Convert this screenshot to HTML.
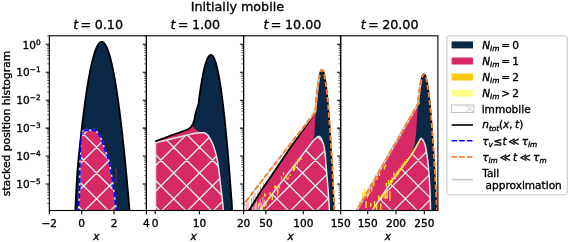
<!DOCTYPE html>
<html><head><meta charset="utf-8"><title>Initially mobile</title>
<style>html,body{margin:0;padding:0;background:#fff}svg{display:block;filter:blur(0.3px)}text{stroke:#000;stroke-width:.35px}</style></head>
<body>
<svg width="575" height="242" viewBox="0 0 575 242" font-family="DejaVu Sans, Liberation Sans, sans-serif" font-size="10.55" fill="#000">
<rect width="575" height="242" fill="#fff"/>
<defs>
<clipPath id="c0"><rect x="49.3" y="35.8" width="97.1" height="174.7"/></clipPath>
<clipPath id="c1"><rect x="146.4" y="35.8" width="97.2" height="174.7"/></clipPath>
<clipPath id="c2"><rect x="243.6" y="35.8" width="97.1" height="174.7"/></clipPath>
<clipPath id="c3"><rect x="340.7" y="35.8" width="97.2" height="174.7"/></clipPath>
<path id="hl" d="M-299.44 260 L-19.44 -20 M-405.44 -20 L-125.44 260 M-273.69 260 L6.31 -20 M-379.69 -20 L-99.69 260 M-247.95 260 L32.05 -20 M-353.95 -20 L-73.95 260 M-222.21 260 L57.79 -20 M-328.21 -20 L-48.21 260 M-196.46 260 L83.54 -20 M-302.46 -20 L-22.46 260 M-170.72 260 L109.28 -20 M-276.72 -20 L3.28 260 M-144.97 260 L135.03 -20 M-250.97 -20 L29.03 260 M-119.22 260 L160.78 -20 M-225.22 -20 L54.78 260 M-93.48 260 L186.52 -20 M-199.48 -20 L80.52 260 M-67.74 260 L212.26 -20 M-173.74 -20 L106.26 260 M-41.99 260 L238.01 -20 M-147.99 -20 L132.01 260 M-16.25 260 L263.75 -20 M-122.25 -20 L157.75 260 M9.5 260 L289.5 -20 M-96.5 -20 L183.5 260 M35.25 260 L315.25 -20 M-70.75 -20 L209.25 260 M60.99 260 L340.99 -20 M-45.01 -20 L234.99 260 M86.74 260 L366.74 -20 M-19.27 -20 L260.74 260 M112.48 260 L392.48 -20 M6.48 -20 L286.48 260 M138.23 260 L418.23 -20 M32.22 -20 L312.23 260 M163.97 260 L443.97 -20 M57.97 -20 L337.97 260 M189.72 260 L469.72 -20 M83.72 -20 L363.72 260 M215.46 260 L495.46 -20 M109.46 -20 L389.46 260 M241.21 260 L521.21 -20 M135.21 -20 L415.21 260 M266.95 260 L546.95 -20 M160.95 -20 L440.95 260 M292.69 260 L572.69 -20 M186.69 -20 L466.69 260 M318.44 260 L598.44 -20 M212.44 -20 L492.44 260 M344.18 260 L624.18 -20 M238.19 -20 L518.18 260 M369.93 260 L649.93 -20 M263.93 -20 L543.93 260 M395.67 260 L675.67 -20 M289.68 -20 L569.67 260 M421.42 260 L701.42 -20 M315.42 -20 L595.42 260 M447.16 260 L727.16 -20 M341.17 -20 L621.16 260 M472.91 260 L752.91 -20 M366.91 -20 L646.91 260 M498.65 260 L778.65 -20 M392.66 -20 L672.65 260"/>
</defs>
<g clip-path="url(#c0)">
<path d="M75.16 213.5 L75.7 202.24 L76.25 191.37 L76.82 180.88 L77.4 170.77 L78.31 161.04 L79.25 151.69 L80.18 142.72 L81.12 134.14 L82.05 125.93 L82.99 118.11 L83.93 110.67 L84.86 103.61 L85.8 96.93 L86.73 90.64 L87.67 84.73 L88.6 79.19 L89.54 74.04 L90.47 69.27 L91.41 64.88 L92.35 60.88 L93.28 57.25 L94.22 54.01 L95.15 51.15 L96.09 48.67 L97.02 46.57 L97.96 44.85 L98.89 43.52 L99.83 42.56 L100.76 41.99 L101.7 41.8 L102.64 41.99 L103.57 42.56 L104.51 43.52 L105.44 44.85 L106.38 46.57 L107.31 48.67 L108.25 51.15 L109.18 54.01 L110.12 57.25 L111.05 60.88 L111.99 64.88 L112.93 69.27 L113.86 74.04 L114.8 79.19 L115.73 84.73 L116.67 90.64 L117.6 96.93 L118.54 103.61 L119.47 110.67 L120.41 118.11 L121.35 125.93 L122.28 134.14 L123.22 142.72 L124.15 151.69 L125.09 161.04 L126.02 170.77 L126.96 180.88 L127.89 191.37 L128.83 202.24 L129.76 213.5 Z" fill="#0b2846"/>
<clipPath id="h0"><path d="M78.3 214 L78.5 210.5 L79.6 190 L79.9 160 L80.8 140 L81.6 132.5 L82.6 130.7 L84.5 130.3 L85.1 130.28 L85.94 130.26 L86.92 130.22 L87.99 130.2 L89.04 130.19 L90 130.2 L90.91 130.21 L91.83 130.2 L92.75 130.21 L93.63 130.26 L94.46 130.38 L95.2 130.6 L95.83 130.91 L96.38 131.28 L96.86 131.72 L97.32 132.25 L97.79 132.87 L98.3 133.6 L98.85 134.43 L99.41 135.35 L99.99 136.36 L100.56 137.47 L101.14 138.69 L101.7 140 L102.25 141.46 L102.8 143.07 L103.34 144.78 L103.88 146.53 L104.43 148.29 L105 150 L105.59 151.61 L106.2 153.15 L106.83 154.69 L107.44 156.3 L108.04 158.04 L108.6 160 L109.13 162.21 L109.64 164.63 L110.14 167.19 L110.61 169.81 L111.07 172.44 L111.5 175 L111.9 177.44 L112.27 179.8 L112.62 182.16 L112.96 184.59 L113.32 187.18 L113.7 190 L114.14 193.3 L114.62 197.06 L115.12 200.97 L115.59 204.72 L116 208 L116.3 210.5 L116.49 212.11 L116.58 213.06 L116.61 213.53 L116.61 213.72 L116.59 213.82 L116.6 214 Z"/></clipPath>
<path d="M78.3 214 L78.5 210.5 L79.6 190 L79.9 160 L80.8 140 L81.6 132.5 L82.6 130.7 L84.5 130.3 L85.1 130.28 L85.94 130.26 L86.92 130.22 L87.99 130.2 L89.04 130.19 L90 130.2 L90.91 130.21 L91.83 130.2 L92.75 130.21 L93.63 130.26 L94.46 130.38 L95.2 130.6 L95.83 130.91 L96.38 131.28 L96.86 131.72 L97.32 132.25 L97.79 132.87 L98.3 133.6 L98.85 134.43 L99.41 135.35 L99.99 136.36 L100.56 137.47 L101.14 138.69 L101.7 140 L102.25 141.46 L102.8 143.07 L103.34 144.78 L103.88 146.53 L104.43 148.29 L105 150 L105.59 151.61 L106.2 153.15 L106.83 154.69 L107.44 156.3 L108.04 158.04 L108.6 160 L109.13 162.21 L109.64 164.63 L110.14 167.19 L110.61 169.81 L111.07 172.44 L111.5 175 L111.9 177.44 L112.27 179.8 L112.62 182.16 L112.96 184.59 L113.32 187.18 L113.7 190 L114.14 193.3 L114.62 197.06 L115.12 200.97 L115.59 204.72 L116 208 L116.3 210.5 L116.49 212.11 L116.58 213.06 L116.61 213.53 L116.61 213.72 L116.59 213.82 L116.6 214 Z" fill="#d72965"/>
<g clip-path="url(#h0)"><use href="#hl" stroke="#d9f0ea" stroke-width="1.3" fill="none"/></g>
<path d="M116 168V183" stroke="#d72965" stroke-width="0.7" opacity="0.8"/>
<path d="M86.8 127.6 v4" stroke="#d72965" stroke-width="0.9"/>
<path d="M93.8 128.2 v4" stroke="#d72965" stroke-width="0.9"/>
<path d="M83.2 131 v4" stroke="#d72965" stroke-width="0.9"/>
<path d="M106.5 152 v4" stroke="#d72965" stroke-width="0.9"/>
<path d="M78.3 214 L78.5 210.5 L79.6 190 L79.9 160 L80.8 140 L81.6 132.5 L82.6 130.7 L84.5 130.3 L85.1 130.28 L85.94 130.26 L86.92 130.22 L87.99 130.2 L89.04 130.19 L90 130.2 L90.91 130.21 L91.83 130.2 L92.75 130.21 L93.63 130.26 L94.46 130.38 L95.2 130.6 L95.83 130.91 L96.38 131.28 L96.86 131.72 L97.32 132.25 L97.79 132.87 L98.3 133.6 L98.85 134.43 L99.41 135.35 L99.99 136.36 L100.56 137.47 L101.14 138.69 L101.7 140 L102.25 141.46 L102.8 143.07 L103.34 144.78 L103.88 146.53 L104.43 148.29 L105 150 L105.59 151.61 L106.2 153.15 L106.83 154.69 L107.44 156.3 L108.04 158.04 L108.6 160 L109.13 162.21 L109.64 164.63 L110.14 167.19 L110.61 169.81 L111.07 172.44 L111.5 175 L111.9 177.44 L112.27 179.8 L112.62 182.16 L112.96 184.59 L113.32 187.18 L113.7 190 L114.14 193.3 L114.62 197.06 L115.12 200.97 L115.59 204.72 L116 208 L116.3 210.5 L116.49 212.11 L116.58 213.06 L116.61 213.53 L116.61 213.72 L116.59 213.82 L116.6 214" fill="none" stroke="#e0e8ea" stroke-width="1.5"/>
<path d="M75.16 213.5 L75.7 202.24 L76.25 191.37 L76.82 180.88 L77.4 170.77 L78.31 161.04 L79.25 151.69 L80.18 142.72 L81.12 134.14 L82.05 125.93 L82.99 118.11 L83.93 110.67 L84.86 103.61 L85.8 96.93 L86.73 90.64 L87.67 84.73 L88.6 79.19 L89.54 74.04 L90.47 69.27 L91.41 64.88 L92.35 60.88 L93.28 57.25 L94.22 54.01 L95.15 51.15 L96.09 48.67 L97.02 46.57 L97.96 44.85 L98.89 43.52 L99.83 42.56 L100.76 41.99 L101.7 41.8 L102.64 41.99 L103.57 42.56 L104.51 43.52 L105.44 44.85 L106.38 46.57 L107.31 48.67 L108.25 51.15 L109.18 54.01 L110.12 57.25 L111.05 60.88 L111.99 64.88 L112.93 69.27 L113.86 74.04 L114.8 79.19 L115.73 84.73 L116.67 90.64 L117.6 96.93 L118.54 103.61 L119.47 110.67 L120.41 118.11 L121.35 125.93 L122.28 134.14 L123.22 142.72 L124.15 151.69 L125.09 161.04 L126.02 170.77 L126.96 180.88 L127.89 191.37 L128.83 202.24 L129.76 213.5" fill="none" stroke="#000" stroke-width="1.8" stroke-linejoin="round"/>
<path d="M78.3 214 L78.5 210.5 L79.6 190 L79.9 160 L80.8 140 L81.6 132.5 L82.6 130.7 L84.5 130.3 L85.1 130.28 L85.94 130.26 L86.92 130.22 L87.99 130.2 L89.04 130.19 L90 130.2 L90.91 130.21 L91.83 130.2 L92.75 130.21 L93.63 130.26 L94.46 130.38 L95.2 130.6 L95.83 130.91 L96.38 131.28 L96.86 131.72 L97.32 132.25 L97.79 132.87 L98.3 133.6 L98.85 134.43 L99.41 135.35 L99.99 136.36 L100.56 137.47 L101.14 138.69 L101.7 140 L102.25 141.46 L102.8 143.07 L103.34 144.78 L103.88 146.53 L104.43 148.29 L105 150 L105.59 151.61 L106.2 153.15 L106.83 154.69 L107.44 156.3 L108.04 158.04 L108.6 160 L109.13 162.21 L109.64 164.63 L110.14 167.19 L110.61 169.81 L111.07 172.44 L111.5 175 L111.9 177.44 L112.27 179.8 L112.62 182.16 L112.96 184.59 L113.32 187.18 L113.7 190 L114.14 193.3 L114.62 197.06 L115.12 200.97 L115.59 204.72 L116 208 L116.3 210.5 L116.49 212.11 L116.58 213.06 L116.61 213.53 L116.61 213.72 L116.59 213.82 L116.6 214" fill="none" stroke="#0000ff" stroke-width="1.8" stroke-dasharray="5.4 2.3"/>
</g>
<g clip-path="url(#c1)">
<path d="M155.3 214 L155.3 141.4 L156.95 140.78 L159.29 139.9 L162.02 138.88 L164.9 137.8 L167.65 136.77 L170 135.9 L171.98 135.18 L173.81 134.51 L175.51 133.91 L177.1 133.34 L178.59 132.81 L180 132.3 L181.32 131.83 L182.54 131.4 L183.66 131.01 L184.69 130.63 L185.63 130.27 L186.5 129.9 L187.27 129.54 L187.93 129.21 L188.51 128.88 L189.03 128.55 L189.52 128.19 L190 127.8 L190.46 127.37 L190.88 126.93 L191.26 126.46 L191.62 125.97 L191.97 125.45 L192.3 124.9 L192.62 124.35 L192.91 123.82 L193.19 123.26 L193.46 122.63 L193.73 121.89 L194 121 L194.26 119.94 L194.5 118.74 L194.73 117.43 L194.98 116.05 L195.26 114.63 L195.6 113.2 L196.03 111.69 L196.54 110.04 L197.08 108.36 L197.61 106.73 L198.07 105.25 L198.43 104 L198.65 102.99 L198.79 102.13 L198.86 101.42 L198.89 100.84 L198.91 100.38 L198.94 100 L199.34 97.05 L199.73 94.2 L200.13 91.45 L200.52 88.8 L200.92 86.25 L201.31 83.8 L201.71 81.45 L202.1 79.2 L202.5 77.05 L202.89 75 L203.29 73.05 L203.68 71.2 L204.08 69.45 L204.48 67.8 L204.87 66.25 L205.27 64.8 L205.66 63.45 L206.06 62.2 L206.45 61.05 L206.85 60 L207.24 59.05 L207.64 58.2 L208.03 57.45 L208.43 56.8 L208.82 56.25 L209.22 55.8 L209.61 55.45 L210.01 55.2 L210.4 55.05 L210.9 55 L211.54 55.1 L212.07 55.4 L212.61 55.89 L213.14 56.59 L213.68 57.48 L214.22 58.57 L214.75 59.85 L215.29 61.34 L215.82 63.02 L216.36 64.91 L216.89 66.99 L217.43 69.27 L217.97 71.74 L218.5 74.42 L219.04 77.29 L219.57 80.36 L220.11 83.63 L220.65 87.1 L221.18 90.76 L221.72 94.62 L222.25 98.69 L222.79 102.95 L223.32 107.4 L223.86 112.06 L224.4 116.91 L224.93 121.97 L225.47 127.22 L226 132.67 L226.54 138.31 L227.08 144.16 L227.61 150.2 L228.15 156.44 L228.68 162.88 L229.22 169.52 L229.75 176.35 L230.29 183.38 L230.83 190.62 L231.36 198.05 L231.9 205.67 L232.43 213.5 Z" fill="#0b2846"/>
<path d="M155.3 214 L155.3 141.4 L170 135.9 L180 132.3 L186.5 129.9 L190 127.8 L192 125.8 L195.5 129.5 L200 132.2 L204 132.9 L207 134.5 L212.6 143.7 L223.4 214 Z" fill="#d72965"/>
<clipPath id="h1"><path d="M155.5 214 L155.5 142.8 L157.64 142.27 L160.61 141.54 L164.12 140.67 L167.89 139.74 L171.61 138.83 L175 138 L178.23 137.21 L181.56 136.4 L184.84 135.6 L187.94 134.86 L190.71 134.21 L193 133.7 L194.71 133.35 L195.93 133.14 L196.81 133.03 L197.52 132.98 L198.2 132.95 L199 132.9 L199.91 132.84 L200.81 132.78 L201.69 132.75 L202.52 132.75 L203.29 132.8 L204 132.9 L204.62 133.06 L205.17 133.26 L205.66 133.51 L206.12 133.8 L206.56 134.13 L207 134.5 L207.43 134.88 L207.81 135.28 L208.19 135.71 L208.56 136.21 L208.96 136.8 L209.4 137.5 L209.89 138.32 L210.42 139.25 L210.97 140.27 L211.53 141.36 L212.08 142.51 L212.6 143.7 L213.09 144.92 L213.57 146.17 L214.04 147.49 L214.5 148.88 L214.95 150.38 L215.4 152 L215.84 153.68 L216.28 155.39 L216.71 157.21 L217.14 159.2 L217.57 161.44 L218 164 L218.44 167 L218.88 170.41 L219.32 174.06 L219.76 177.81 L220.19 181.51 L220.6 185 L221.01 188.39 L221.42 191.81 L221.83 195.19 L222.2 198.41 L222.53 201.38 L222.8 204 L223 206.3 L223.14 208.37 L223.24 210.19 L223.3 211.74 L223.35 213.02 L223.4 214 Z"/></clipPath>
<path d="M155.5 214 L155.5 142.8 L157.64 142.27 L160.61 141.54 L164.12 140.67 L167.89 139.74 L171.61 138.83 L175 138 L178.23 137.21 L181.56 136.4 L184.84 135.6 L187.94 134.86 L190.71 134.21 L193 133.7 L194.71 133.35 L195.93 133.14 L196.81 133.03 L197.52 132.98 L198.2 132.95 L199 132.9 L199.91 132.84 L200.81 132.78 L201.69 132.75 L202.52 132.75 L203.29 132.8 L204 132.9 L204.62 133.06 L205.17 133.26 L205.66 133.51 L206.12 133.8 L206.56 134.13 L207 134.5 L207.43 134.88 L207.81 135.28 L208.19 135.71 L208.56 136.21 L208.96 136.8 L209.4 137.5 L209.89 138.32 L210.42 139.25 L210.97 140.27 L211.53 141.36 L212.08 142.51 L212.6 143.7 L213.09 144.92 L213.57 146.17 L214.04 147.49 L214.5 148.88 L214.95 150.38 L215.4 152 L215.84 153.68 L216.28 155.39 L216.71 157.21 L217.14 159.2 L217.57 161.44 L218 164 L218.44 167 L218.88 170.41 L219.32 174.06 L219.76 177.81 L220.19 181.51 L220.6 185 L221.01 188.39 L221.42 191.81 L221.83 195.19 L222.2 198.41 L222.53 201.38 L222.8 204 L223 206.3 L223.14 208.37 L223.24 210.19 L223.3 211.74 L223.35 213.02 L223.4 214 Z" fill="#d72965"/>
<g clip-path="url(#h1)"><use href="#hl" stroke="#d9f0ea" stroke-width="1.3" fill="none"/></g>
<path d="M155.5 214 L155.5 142.8 L157.64 142.27 L160.61 141.54 L164.12 140.67 L167.89 139.74 L171.61 138.83 L175 138 L178.23 137.21 L181.56 136.4 L184.84 135.6 L187.94 134.86 L190.71 134.21 L193 133.7 L194.71 133.35 L195.93 133.14 L196.81 133.03 L197.52 132.98 L198.2 132.95 L199 132.9 L199.91 132.84 L200.81 132.78 L201.69 132.75 L202.52 132.75 L203.29 132.8 L204 132.9 L204.62 133.06 L205.17 133.26 L205.66 133.51 L206.12 133.8 L206.56 134.13 L207 134.5 L207.43 134.88 L207.81 135.28 L208.19 135.71 L208.56 136.21 L208.96 136.8 L209.4 137.5 L209.89 138.32 L210.42 139.25 L210.97 140.27 L211.53 141.36 L212.08 142.51 L212.6 143.7 L213.09 144.92 L213.57 146.17 L214.04 147.49 L214.5 148.88 L214.95 150.38 L215.4 152 L215.84 153.68 L216.28 155.39 L216.71 157.21 L217.14 159.2 L217.57 161.44 L218 164 L218.44 167 L218.88 170.41 L219.32 174.06 L219.76 177.81 L220.19 181.51 L220.6 185 L221.01 188.39 L221.42 191.81 L221.83 195.19 L222.2 198.41 L222.53 201.38 L222.8 204 L223 206.3 L223.14 208.37 L223.24 210.19 L223.3 211.74 L223.35 213.02 L223.4 214" fill="none" stroke="#e0e8ea" stroke-width="1.5" stroke-linejoin="round"/>
<path d="M155.3 141.4 L156.95 140.78 L159.29 139.9 L162.02 138.88 L164.9 137.8 L167.65 136.77 L170 135.9 L171.98 135.18 L173.81 134.51 L175.51 133.91 L177.1 133.34 L178.59 132.81 L180 132.3 L181.32 131.83 L182.54 131.4 L183.66 131.01 L184.69 130.63 L185.63 130.27 L186.5 129.9 L187.27 129.54 L187.93 129.21 L188.51 128.88 L189.03 128.55 L189.52 128.19 L190 127.8 L190.46 127.37 L190.88 126.93 L191.26 126.46 L191.62 125.97 L191.97 125.45 L192.3 124.9 L192.62 124.35 L192.91 123.82 L193.19 123.26 L193.46 122.63 L193.73 121.89 L194 121 L194.26 119.94 L194.5 118.74 L194.73 117.43 L194.98 116.05 L195.26 114.63 L195.6 113.2 L196.03 111.69 L196.54 110.04 L197.08 108.36 L197.61 106.73 L198.07 105.25 L198.43 104 L198.65 102.99 L198.79 102.13 L198.86 101.42 L198.89 100.84 L198.91 100.38 L198.94 100 L199.34 97.05 L199.73 94.2 L200.13 91.45 L200.52 88.8 L200.92 86.25 L201.31 83.8 L201.71 81.45 L202.1 79.2 L202.5 77.05 L202.89 75 L203.29 73.05 L203.68 71.2 L204.08 69.45 L204.48 67.8 L204.87 66.25 L205.27 64.8 L205.66 63.45 L206.06 62.2 L206.45 61.05 L206.85 60 L207.24 59.05 L207.64 58.2 L208.03 57.45 L208.43 56.8 L208.82 56.25 L209.22 55.8 L209.61 55.45 L210.01 55.2 L210.4 55.05 L210.9 55 L211.54 55.1 L212.07 55.4 L212.61 55.89 L213.14 56.59 L213.68 57.48 L214.22 58.57 L214.75 59.85 L215.29 61.34 L215.82 63.02 L216.36 64.91 L216.89 66.99 L217.43 69.27 L217.97 71.74 L218.5 74.42 L219.04 77.29 L219.57 80.36 L220.11 83.63 L220.65 87.1 L221.18 90.76 L221.72 94.62 L222.25 98.69 L222.79 102.95 L223.32 107.4 L223.86 112.06 L224.4 116.91 L224.93 121.97 L225.47 127.22 L226 132.67 L226.54 138.31 L227.08 144.16 L227.61 150.2 L228.15 156.44 L228.68 162.88 L229.22 169.52 L229.75 176.35 L230.29 183.38 L230.83 190.62 L231.36 198.05 L231.9 205.67 L232.43 213.5" fill="none" stroke="#000" stroke-width="1.8" stroke-linejoin="round"/>
</g>
<g clip-path="url(#c2)">
<path d="M246.93 214 L248.08 212 L249.26 210 L250.49 208 L251.73 206 L252.97 204 L254.21 202 L255.45 200 L256.68 198 L257.92 196 L259.16 194 L260.4 192 L261.64 190 L263 188 L264.37 186 L265.73 184 L267.1 182 L268.46 180 L269.83 178 L271.19 176 L272.56 174 L273.92 172 L275.29 170 L276.64 168 L277.98 166 L279.33 164 L280.68 162 L282.02 160 L283.37 158 L284.72 156 L286.06 154 L287.41 152 L288.75 150 L290.1 148 L291.45 146 L292.9 144 L294.35 142 L295.8 140 L297.25 138 L298.7 136 L300.15 134 L301.6 132 L303.05 130 L304.5 128 L305.95 126 L307.4 124 L308.71 122 L310.02 120 L311.33 118 L312.63 116 L313.94 114 L315.25 112 L315.5 111.6 L315.87 106.97 L316.25 102.62 L316.62 98.53 L316.99 94.72 L317.36 91.18 L317.73 87.92 L318.1 84.92 L318.47 82.2 L318.84 79.75 L319.21 77.57 L319.58 75.66 L319.96 74.03 L320.33 72.67 L320.7 71.57 L321.07 70.76 L321.44 70.21 L321.81 69.94 L322.18 69.93 L322.55 70.2 L322.92 70.74 L323.3 71.56 L323.67 72.64 L324.04 74 L324.41 75.63 L324.78 77.53 L325.15 79.71 L325.52 82.15 L325.89 84.87 L326.26 87.86 L326.63 91.12 L327.01 94.66 L327.38 98.46 L327.75 102.54 L328.12 106.89 L328.49 111.52 L328.86 116.41 L329.23 121.58 L329.6 127.02 L329.97 132.73 L330.35 138.71 L330.72 144.96 L331.09 151.49 L331.46 158.29 L331.83 165.36 L332.2 172.7 L332.57 180.32 L332.94 188.21 L333.31 196.37 L333.68 204.8 L334.06 213.5 Z" fill="#0b2846"/>
<path d="M246.93 214 L248.08 212 L249.26 210 L250.49 208 L251.73 206 L252.97 204 L254.21 202 L255.45 200 L256.68 198 L257.92 196 L259.16 194 L260.4 192 L261.64 190 L263 188 L264.37 186 L265.73 184 L267.1 182 L268.46 180 L269.83 178 L271.19 176 L272.56 174 L273.92 172 L275.29 170 L276.64 168 L277.98 166 L279.33 164 L280.68 162 L282.02 160 L283.37 158 L284.72 156 L286.06 154 L287.41 152 L288.75 150 L290.1 148 L291.45 146 L292.9 144 L294.35 142 L295.8 140 L297.25 138 L298.7 136 L300.15 134 L301.6 132 L303.05 130 L304.5 128 L305.95 126 L307.4 124 L308.71 122 L310.02 120 L311.33 118 L312.63 116 L313.94 114 L315.25 112 L315.5 111.6 L315.2 120 L314.6 131 L314.4 136 L313 139.8 L310 144 L306.3 148.3 L300.89 156 L256.88 214 Z" fill="#d72965"/>
<clipPath id="h2"><path d="M256.88 214 L310.72 144 L311.05 143.56 L311.39 143.09 L311.75 142.59 L312.14 142.07 L312.56 141.53 L313.03 141 L313.57 140.43 L314.18 139.81 L314.83 139.19 L315.47 138.59 L316.08 138.04 L316.6 137.6 L317.04 137.24 L317.42 136.95 L317.75 136.71 L318.07 136.54 L318.38 136.44 L318.7 136.4 L319.03 136.44 L319.36 136.54 L319.68 136.71 L319.99 136.95 L320.3 137.24 L320.6 137.6 L320.9 138.02 L321.19 138.51 L321.47 139.06 L321.75 139.67 L322.02 140.32 L322.3 141 L322.58 141.69 L322.85 142.4 L323.12 143.15 L323.39 143.98 L323.65 144.92 L323.9 146 L324.14 147.25 L324.37 148.63 L324.59 150.12 L324.81 151.7 L325.01 153.34 L325.2 155 L325.37 156.68 L325.52 158.41 L325.66 160.19 L325.79 162.04 L325.94 163.97 L326.1 166 L326.28 168.15 L326.48 170.41 L326.68 172.75 L326.89 175.15 L327.1 177.57 L327.3 180 L327.5 182.44 L327.71 184.91 L327.92 187.41 L328.12 189.93 L328.32 192.46 L328.5 195 L328.68 197.69 L328.85 200.57 L329.02 203.47 L329.17 206.2 L329.3 208.61 L329.4 210.5 L329.46 211.82 L329.5 212.69 L329.51 213.22 L329.5 213.54 L329.5 213.76 L329.5 214 Z"/></clipPath>
<path d="M256.88 214 L310.72 144 L311.05 143.56 L311.39 143.09 L311.75 142.59 L312.14 142.07 L312.56 141.53 L313.03 141 L313.57 140.43 L314.18 139.81 L314.83 139.19 L315.47 138.59 L316.08 138.04 L316.6 137.6 L317.04 137.24 L317.42 136.95 L317.75 136.71 L318.07 136.54 L318.38 136.44 L318.7 136.4 L319.03 136.44 L319.36 136.54 L319.68 136.71 L319.99 136.95 L320.3 137.24 L320.6 137.6 L320.9 138.02 L321.19 138.51 L321.47 139.06 L321.75 139.67 L322.02 140.32 L322.3 141 L322.58 141.69 L322.85 142.4 L323.12 143.15 L323.39 143.98 L323.65 144.92 L323.9 146 L324.14 147.25 L324.37 148.63 L324.59 150.12 L324.81 151.7 L325.01 153.34 L325.2 155 L325.37 156.68 L325.52 158.41 L325.66 160.19 L325.79 162.04 L325.94 163.97 L326.1 166 L326.28 168.15 L326.48 170.41 L326.68 172.75 L326.89 175.15 L327.1 177.57 L327.3 180 L327.5 182.44 L327.71 184.91 L327.92 187.41 L328.12 189.93 L328.32 192.46 L328.5 195 L328.68 197.69 L328.85 200.57 L329.02 203.47 L329.17 206.2 L329.3 208.61 L329.4 210.5 L329.46 211.82 L329.5 212.69 L329.51 213.22 L329.5 213.54 L329.5 213.76 L329.5 214 Z" fill="#d72965"/>
<g clip-path="url(#h2)"><use href="#hl" stroke="#d9f0ea" stroke-width="1.3" fill="none"/></g>
<path d="M248 201.3V214 M251.5 197.9V214 M255 193.2V214 M257.9 191V214 M246.2 203.5V214 M253.3 196V205 M260.5 186V196 M263.5 183V190" stroke="#d72965" stroke-width="0.7" fill="none" opacity="0.75"/>
<path d="M256.7 201.3V214 M260.2 199V214 M261.6 203V214 M258.4 204V214 M254.2 205.5V214 M252.6 207V214 M255.4 203.5V214 M263 197V205 M264.6 199.5V207" stroke="#fff" stroke-width="0.8" fill="none" opacity="0.85"/>
<path d="M256.88 214 L310.72 144 L311.05 143.56 L311.39 143.09 L311.75 142.59 L312.14 142.07 L312.56 141.53 L313.03 141 L313.57 140.43 L314.18 139.81 L314.83 139.19 L315.47 138.59 L316.08 138.04 L316.6 137.6 L317.04 137.24 L317.42 136.95 L317.75 136.71 L318.07 136.54 L318.38 136.44 L318.7 136.4 L319.03 136.44 L319.36 136.54 L319.68 136.71 L319.99 136.95 L320.3 137.24 L320.6 137.6 L320.9 138.02 L321.19 138.51 L321.47 139.06 L321.75 139.67 L322.02 140.32 L322.3 141 L322.58 141.69 L322.85 142.4 L323.12 143.15 L323.39 143.98 L323.65 144.92 L323.9 146 L324.14 147.25 L324.37 148.63 L324.59 150.12 L324.81 151.7 L325.01 153.34 L325.2 155 L325.37 156.68 L325.52 158.41 L325.66 160.19 L325.79 162.04 L325.94 163.97 L326.1 166 L326.28 168.15 L326.48 170.41 L326.68 172.75 L326.89 175.15 L327.1 177.57 L327.3 180 L327.5 182.44 L327.71 184.91 L327.92 187.41 L328.12 189.93 L328.32 192.46 L328.5 195 L328.68 197.69 L328.85 200.57 L329.02 203.47 L329.17 206.2 L329.3 208.61 L329.4 210.5 L329.46 211.82 L329.5 212.69 L329.51 213.22 L329.5 213.54 L329.5 213.76 L329.5 214" fill="none" stroke="#e0e8ea" stroke-width="1.5" stroke-linejoin="round"/>
<path d="M264.8 193.2V196.7 M259 202.5V206 M266 201.3V206 M272.3 195.6V200.2 M274.6 185.7V188.6 M277.5 188.6V195.6 M283.5 172.3V175.4 M281.4 176.4V179.6 M286.1 175.9V179 M287.7 178V180 M290.3 174.3V176 M293.4 167V171.2 M294.4 169V170.7 M275.7 185.3V188 M279.3 185.8V188.4 M301 157.4V160.1 M297.3 162V164.7 M294.6 165.6V169.3 M299 159.5V162 M270 192V195 M268.3 197V200 M262.5 206V209.5" stroke="#ffe21a" stroke-width="1.35" fill="none"/>
<path d="M277.9 190V193 M288.2 176.5V178.5 M265.2 194V196" stroke="#ffff8c" stroke-width="0.8" fill="none"/>
<path d="M246.93 214 L248.08 212 L249.26 210 L250.49 208 L251.73 206 L252.97 204 L254.21 202 L255.45 200 L256.68 198 L257.92 196 L259.16 194 L260.4 192 L261.64 190 L263 188 L264.37 186 L265.73 184 L267.1 182 L268.46 180 L269.83 178 L271.19 176 L272.56 174 L273.92 172 L275.29 170 L276.64 168 L277.98 166 L279.33 164 L280.68 162 L282.02 160 L283.37 158 L284.72 156 L286.06 154 L287.41 152 L288.75 150 L290.1 148 L291.45 146 L292.9 144 L294.35 142 L295.8 140 L297.25 138 L298.7 136 L300.15 134 L301.6 132 L303.05 130 L304.5 128 L305.95 126 L307.4 124 L308.71 122 L310.02 120 L311.33 118 L312.63 116 L313.94 114 L315.25 112 L315.5 111.6 L315.87 106.97 L316.25 102.62 L316.62 98.53 L316.99 94.72 L317.36 91.18 L317.73 87.92 L318.1 84.92 L318.47 82.2 L318.84 79.75 L319.21 77.57 L319.58 75.66 L319.96 74.03 L320.33 72.67 L320.7 71.57 L321.07 70.76 L321.44 70.21 L321.81 69.94 L322.18 69.93 L322.55 70.2 L322.92 70.74 L323.3 71.56 L323.67 72.64 L324.04 74 L324.41 75.63 L324.78 77.53 L325.15 79.71 L325.52 82.15 L325.89 84.87 L326.26 87.86 L326.63 91.12 L327.01 94.66 L327.38 98.46 L327.75 102.54 L328.12 106.89 L328.49 111.52 L328.86 116.41 L329.23 121.58 L329.6 127.02 L329.97 132.73 L330.35 138.71 L330.72 144.96 L331.09 151.49 L331.46 158.29 L331.83 165.36 L332.2 172.7 L332.57 180.32 L332.94 188.21 L333.31 196.37 L333.68 204.8 L334.06 213.5" fill="none" stroke="#000" stroke-width="1.8" stroke-linejoin="round"/>
<path d="M236.13 214 L315.5 111.6 L315.5 111.6 L315.87 106.97 L316.25 102.62 L316.62 98.53 L316.99 94.72 L317.36 91.18 L317.73 87.92 L318.1 84.92 L318.47 82.2 L318.84 79.75 L319.21 77.57 L319.58 75.66" fill="none" stroke="#d5dadc" stroke-width="1.9"/>
<path d="M236.13 214 L315.5 111.6 L315.5 111.6 L315.87 106.97 L316.25 102.62 L316.62 98.53 L316.99 94.72 L317.36 91.18 L317.73 87.92 L318.1 84.92 L318.47 82.2 L318.84 79.75 L319.21 77.57 L319.58 75.66 L319.96 74.03 L320.33 72.67 L320.7 71.57 L321.07 70.76 L321.44 70.21 L321.81 69.94 L322.18 69.93 L322.55 70.2 L322.93 70.74 L323.3 71.56 L323.67 72.64 L324.05 74 L324.43 75.63 L324.8 77.53 L325.18 79.71 L325.56 82.15 L325.94 84.87 L326.32 87.86 L326.7 91.12 L327.08 94.66 L327.46 98.46 L327.85 102.54 L328.23 106.89 L328.61 111.52 L329 116.41 L329.39 121.58 L329.77 127.02 L330.16 132.73 L330.55 138.71 L330.94 144.96 L331.33 151.49 L331.72 158.29 L332.12 165.36 L332.51 172.7 L332.9 180.32 L333.3 188.21 L333.69 196.37 L334.09 204.8 L334.49 213.5" fill="none" stroke="#ff7f2a" stroke-width="1.9" stroke-dasharray="5.4 2.3"/>
</g>
<g clip-path="url(#c3)">
<path d="M354.7 214 L418.35 103.5 L418.07 103.5 L418.44 99.89 L418.81 96.52 L419.18 93.38 L419.55 90.49 L419.92 87.83 L420.29 85.4 L420.66 83.22 L421.03 81.27 L421.41 79.56 L421.78 78.08 L422.15 76.84 L422.52 75.84 L422.89 75.08 L423.26 74.55 L423.63 74.26 L424 74.21 L424.37 74.39 L424.75 74.82 L425.12 75.47 L425.49 76.37 L425.86 77.5 L426.23 78.87 L426.6 80.48 L426.97 82.33 L427.34 84.41 L427.71 86.73 L428.09 89.28 L428.46 92.07 L428.83 95.1 L429.2 98.37 L429.57 101.87 L429.94 105.62 L430.31 109.59 L430.68 113.81 L431.05 118.26 L431.42 122.95 L431.8 127.88 L432.17 133.04 L432.54 138.44 L432.91 144.08 L433.28 149.96 L433.65 156.07 L434.02 162.42 L434.39 169 L434.76 175.83 L435.14 182.89 L435.51 190.18 L435.88 197.72 L436.25 205.49 L436.62 213.5 Z" fill="#0b2846"/>
<path d="M354.7 214 L418.35 103.5 L418.07 103.5 L417 118 L416.3 130 L415.7 136.5 L415.3 140 L414.4 145.7 L413.2 150 L411 154.8 L408 159.7 L402.8 166.5 L392.59 180 L369.86 214 Z" fill="#d72965"/>
<clipPath id="h3"><path d="M369.86 214 L392.59 180 L393.23 179.13 L393.94 178.2 L394.71 177.22 L395.52 176.19 L396.35 175.11 L397.2 174 L398.08 172.83 L399.01 171.59 L399.96 170.3 L400.93 169 L401.88 167.73 L402.8 166.5 L403.7 165.33 L404.59 164.18 L405.46 163.05 L406.33 161.93 L407.17 160.82 L408 159.7 L408.81 158.58 L409.61 157.45 L410.39 156.33 L411.15 155.21 L411.89 154.1 L412.6 153 L413.29 151.89 L413.97 150.76 L414.62 149.64 L415.25 148.54 L415.85 147.49 L416.4 146.5 L416.91 145.57 L417.39 144.68 L417.82 143.84 L418.24 143.04 L418.63 142.29 L419 141.6 L419.35 140.93 L419.66 140.28 L419.95 139.68 L420.23 139.16 L420.51 138.75 L420.8 138.5 L421.1 138.42 L421.41 138.49 L421.71 138.67 L422.01 138.94 L422.31 139.26 L422.6 139.6 L422.88 139.97 L423.16 140.4 L423.43 140.88 L423.7 141.39 L423.95 141.94 L424.2 142.5 L424.42 142.99 L424.63 143.39 L424.82 143.81 L425.02 144.38 L425.24 145.21 L425.5 146.4 L425.81 148.03 L426.17 150.03 L426.54 152.29 L426.92 154.69 L427.28 157.13 L427.6 159.5 L427.88 161.82 L428.14 164.17 L428.38 166.57 L428.6 169 L428.8 171.48 L429 174 L429.18 176.53 L429.34 179.06 L429.49 181.62 L429.63 184.28 L429.77 187.06 L429.9 190 L430.04 193.35 L430.17 197.13 L430.3 201.03 L430.42 204.76 L430.52 208.02 L430.6 210.5 L430.65 212.11 L430.68 213.06 L430.69 213.53 L430.7 213.72 L430.7 213.82 L430.7 214 Z"/></clipPath>
<path d="M369.86 214 L392.59 180 L393.23 179.13 L393.94 178.2 L394.71 177.22 L395.52 176.19 L396.35 175.11 L397.2 174 L398.08 172.83 L399.01 171.59 L399.96 170.3 L400.93 169 L401.88 167.73 L402.8 166.5 L403.7 165.33 L404.59 164.18 L405.46 163.05 L406.33 161.93 L407.17 160.82 L408 159.7 L408.81 158.58 L409.61 157.45 L410.39 156.33 L411.15 155.21 L411.89 154.1 L412.6 153 L413.29 151.89 L413.97 150.76 L414.62 149.64 L415.25 148.54 L415.85 147.49 L416.4 146.5 L416.91 145.57 L417.39 144.68 L417.82 143.84 L418.24 143.04 L418.63 142.29 L419 141.6 L419.35 140.93 L419.66 140.28 L419.95 139.68 L420.23 139.16 L420.51 138.75 L420.8 138.5 L421.1 138.42 L421.41 138.49 L421.71 138.67 L422.01 138.94 L422.31 139.26 L422.6 139.6 L422.88 139.97 L423.16 140.4 L423.43 140.88 L423.7 141.39 L423.95 141.94 L424.2 142.5 L424.42 142.99 L424.63 143.39 L424.82 143.81 L425.02 144.38 L425.24 145.21 L425.5 146.4 L425.81 148.03 L426.17 150.03 L426.54 152.29 L426.92 154.69 L427.28 157.13 L427.6 159.5 L427.88 161.82 L428.14 164.17 L428.38 166.57 L428.6 169 L428.8 171.48 L429 174 L429.18 176.53 L429.34 179.06 L429.49 181.62 L429.63 184.28 L429.77 187.06 L429.9 190 L430.04 193.35 L430.17 197.13 L430.3 201.03 L430.42 204.76 L430.52 208.02 L430.6 210.5 L430.65 212.11 L430.68 213.06 L430.69 213.53 L430.7 213.72 L430.7 213.82 L430.7 214 Z" fill="#d72965"/>
<g clip-path="url(#h3)"><use href="#hl" stroke="#d9f0ea" stroke-width="1.3" fill="none"/></g>
<path d="M369.86 214 L392.59 180 L393.23 179.13 L393.94 178.2 L394.71 177.22 L395.52 176.19 L396.35 175.11 L397.2 174 L398.08 172.83 L399.01 171.59 L399.96 170.3 L400.93 169 L401.88 167.73 L402.8 166.5 L403.7 165.33 L404.59 164.18 L405.46 163.05 L406.33 161.93 L407.17 160.82 L408 159.7 L408.81 158.58 L409.61 157.45 L410.39 156.33 L411.15 155.21 L411.89 154.1 L412.6 153 L413.29 151.89 L413.97 150.76 L414.62 149.64 L415.25 148.54 L415.85 147.49 L416.4 146.5 L416.91 145.57 L417.39 144.68 L417.82 143.84 L418.24 143.04 L418.63 142.29 L419 141.6 L419.35 140.93 L419.66 140.28 L419.95 139.68 L420.23 139.16 L420.51 138.75 L420.8 138.5 L421.1 138.42 L421.41 138.49 L421.71 138.67 L422.01 138.94 L422.31 139.26 L422.6 139.6 L422.88 139.97 L423.16 140.4 L423.43 140.88 L423.7 141.39 L423.95 141.94 L424.2 142.5 L424.42 142.99 L424.63 143.39 L424.82 143.81 L425.02 144.38 L425.24 145.21 L425.5 146.4 L425.81 148.03 L426.17 150.03 L426.54 152.29 L426.92 154.69 L427.28 157.13 L427.6 159.5 L427.88 161.82 L428.14 164.17 L428.38 166.57 L428.6 169 L428.8 171.48 L429 174 L429.18 176.53 L429.34 179.06 L429.49 181.62 L429.63 184.28 L429.77 187.06 L429.9 190 L430.04 193.35 L430.17 197.13 L430.3 201.03 L430.42 204.76 L430.52 208.02 L430.6 210.5 L430.65 212.11 L430.68 213.06 L430.69 213.53 L430.7 213.72 L430.7 213.82 L430.7 214" fill="none" stroke="#e0e8ea" stroke-width="1.5" stroke-linejoin="round"/>
<path d="M362.6 192.6V199.7 M364.7 188.4V198.3 M367.5 191.2V198.3 M369.6 189.8V194 M371.7 184.2V191.2 M373.8 182.1V186.3 M359.7 201V206.7 M366.1 201V208 M374.5 201V208 M378.7 195.4V199.7 M380.8 203.2V210.2 M382.9 194V198.3 M385 192.6V199 M387.1 189.8V198.3 M389.9 191.2V201 M386.4 182.8V187 M388.5 180V184.2 M406.9 159V162.2 M404.8 161.1V165.3 M403.2 163.2V167.4 M401.7 165.3V169.5 M400.1 167.4V171.6 M398.5 169.5V174.7 M397 171.6V176.8 M395.4 173.7V178.9 M393.8 172.6V176.8 M392.2 177.5V182.5 M390.6 180V185 M384.4 166.3V169.5 M385.5 164.3V166.9 M377 176.5V180 M379.6 173V176 M376.6 205V210.4 M370.8 203V207" stroke="#ffe21a" stroke-width="1.35" fill="none"/>
<path d="M386 196V199 M398 171V173.5 M381.5 198V201 M368.4 193V196" stroke="#ffff8c" stroke-width="0.8" fill="none"/>
<path d="M418.6 142.2 L416.2 146.6 L412.4 153.1 L407.8 159.8 L402.6 166.6" stroke="#ffe21a" stroke-width="1.6" stroke-dasharray="1.5 1.0" fill="none"/>
<path d="M354.7 214 L418.35 103.5 L418.07 103.5 L418.44 99.89 L418.81 96.52 L419.18 93.38 L419.55 90.49 L419.92 87.83 L420.29 85.4 L420.66 83.22 L421.03 81.27 L421.41 79.56 L421.78 78.08 L422.15 76.84 L422.52 75.84 L422.89 75.08 L423.26 74.55 L423.63 74.26 L424 74.21 L424.37 74.39 L424.75 74.82 L425.12 75.47 L425.49 76.37 L425.86 77.5 L426.23 78.87 L426.6 80.48 L426.97 82.33 L427.34 84.41 L427.71 86.73 L428.09 89.28 L428.46 92.07 L428.83 95.1 L429.2 98.37 L429.57 101.87 L429.94 105.62 L430.31 109.59 L430.68 113.81 L431.05 118.26 L431.42 122.95 L431.8 127.88 L432.17 133.04 L432.54 138.44 L432.91 144.08 L433.28 149.96 L433.65 156.07 L434.02 162.42 L434.39 169 L434.76 175.83 L435.14 182.89 L435.51 190.18 L435.88 197.72 L436.25 205.49 L436.62 213.5" fill="none" stroke="#000" stroke-width="1.8" stroke-linejoin="round"/>
<path d="M354.7 214 L418.35 103.5 L418.07 103.5 L418.44 99.89 L418.81 96.52 L419.18 93.38 L419.55 90.49 L419.92 87.83 L420.29 85.4 L420.66 83.22 L421.03 81.27 L421.41 79.56" fill="none" stroke="#d5dadc" stroke-width="2.1"/>
<path d="M354.7 214 L418.35 103.5 L418.07 103.5 L418.44 99.89 L418.81 96.52 L419.18 93.38 L419.55 90.49 L419.92 87.83 L420.29 85.4 L420.66 83.22 L421.03 81.27 L421.41 79.56 L421.78 78.08 L422.15 76.84 L422.52 75.84 L422.89 75.08 L423.26 74.55 L423.63 74.26 L424 74.21 L424.38 74.39 L424.75 74.82 L425.12 75.47 L425.49 76.37 L425.87 77.5 L426.24 78.87 L426.62 80.48 L427 82.33 L427.37 84.41 L427.75 86.73 L428.13 89.28 L428.51 92.07 L428.89 95.1 L429.27 98.37 L429.65 101.87 L430.03 105.62 L430.42 109.59 L430.8 113.81 L431.19 118.26 L431.57 122.95 L431.96 127.88 L432.34 133.04 L432.73 138.44 L433.12 144.08 L433.51 149.96 L433.9 156.07 L434.29 162.42 L434.68 169 L435.07 175.83 L435.46 182.89 L435.85 190.18 L436.25 197.72 L436.64 205.49 L437.04 213.5" fill="none" stroke="#ff7f2a" stroke-width="1.9" stroke-dasharray="5.4 2.3"/>
</g>
<rect x="49.3" y="35.8" width="97.1" height="174.7" fill="none" stroke="#000" stroke-width="1.1"/>
<rect x="146.4" y="35.8" width="97.2" height="174.7" fill="none" stroke="#000" stroke-width="1.1"/>
<rect x="243.6" y="35.8" width="97.1" height="174.7" fill="none" stroke="#000" stroke-width="1.1"/>
<rect x="340.7" y="35.8" width="97.2" height="174.7" fill="none" stroke="#000" stroke-width="1.1"/>
<path d="M49.3 44.3 h-3.7 M49.3 72.24 h-3.7 M49.3 100.18 h-3.7 M49.3 128.12 h-3.7 M49.3 156.06 h-3.7 M49.3 184 h-3.7 M146.4 44.3 h-3.7 M146.4 72.24 h-3.7 M146.4 100.18 h-3.7 M146.4 128.12 h-3.7 M146.4 156.06 h-3.7 M146.4 184 h-3.7 M243.6 44.3 h-3.7 M243.6 72.24 h-3.7 M243.6 100.18 h-3.7 M243.6 128.12 h-3.7 M243.6 156.06 h-3.7 M243.6 184 h-3.7 M340.7 44.3 h-3.7 M340.7 72.24 h-3.7 M340.7 100.18 h-3.7 M340.7 128.12 h-3.7 M340.7 156.06 h-3.7 M340.7 184 h-3.7" stroke="#000" stroke-width="1.1" fill="none"/>
<path d="M49.3 35.89 h-2.1 M49.3 63.83 h-2.1 M49.3 58.91 h-2.1 M49.3 55.42 h-2.1 M49.3 52.71 h-2.1 M49.3 50.5 h-2.1 M49.3 48.63 h-2.1 M49.3 47.01 h-2.1 M49.3 45.58 h-2.1 M49.3 91.77 h-2.1 M49.3 86.85 h-2.1 M49.3 83.36 h-2.1 M49.3 80.65 h-2.1 M49.3 78.44 h-2.1 M49.3 76.57 h-2.1 M49.3 74.95 h-2.1 M49.3 73.52 h-2.1 M49.3 119.71 h-2.1 M49.3 114.79 h-2.1 M49.3 111.3 h-2.1 M49.3 108.59 h-2.1 M49.3 106.38 h-2.1 M49.3 104.51 h-2.1 M49.3 102.89 h-2.1 M49.3 101.46 h-2.1 M49.3 147.65 h-2.1 M49.3 142.73 h-2.1 M49.3 139.24 h-2.1 M49.3 136.53 h-2.1 M49.3 134.32 h-2.1 M49.3 132.45 h-2.1 M49.3 130.83 h-2.1 M49.3 129.4 h-2.1 M49.3 175.59 h-2.1 M49.3 170.67 h-2.1 M49.3 167.18 h-2.1 M49.3 164.47 h-2.1 M49.3 162.26 h-2.1 M49.3 160.39 h-2.1 M49.3 158.77 h-2.1 M49.3 157.34 h-2.1 M49.3 203.53 h-2.1 M49.3 198.61 h-2.1 M49.3 195.12 h-2.1 M49.3 192.41 h-2.1 M49.3 190.2 h-2.1 M49.3 188.33 h-2.1 M49.3 186.71 h-2.1 M49.3 185.28 h-2.1 M146.4 35.89 h-2.1 M146.4 63.83 h-2.1 M146.4 58.91 h-2.1 M146.4 55.42 h-2.1 M146.4 52.71 h-2.1 M146.4 50.5 h-2.1 M146.4 48.63 h-2.1 M146.4 47.01 h-2.1 M146.4 45.58 h-2.1 M146.4 91.77 h-2.1 M146.4 86.85 h-2.1 M146.4 83.36 h-2.1 M146.4 80.65 h-2.1 M146.4 78.44 h-2.1 M146.4 76.57 h-2.1 M146.4 74.95 h-2.1 M146.4 73.52 h-2.1 M146.4 119.71 h-2.1 M146.4 114.79 h-2.1 M146.4 111.3 h-2.1 M146.4 108.59 h-2.1 M146.4 106.38 h-2.1 M146.4 104.51 h-2.1 M146.4 102.89 h-2.1 M146.4 101.46 h-2.1 M146.4 147.65 h-2.1 M146.4 142.73 h-2.1 M146.4 139.24 h-2.1 M146.4 136.53 h-2.1 M146.4 134.32 h-2.1 M146.4 132.45 h-2.1 M146.4 130.83 h-2.1 M146.4 129.4 h-2.1 M146.4 175.59 h-2.1 M146.4 170.67 h-2.1 M146.4 167.18 h-2.1 M146.4 164.47 h-2.1 M146.4 162.26 h-2.1 M146.4 160.39 h-2.1 M146.4 158.77 h-2.1 M146.4 157.34 h-2.1 M146.4 203.53 h-2.1 M146.4 198.61 h-2.1 M146.4 195.12 h-2.1 M146.4 192.41 h-2.1 M146.4 190.2 h-2.1 M146.4 188.33 h-2.1 M146.4 186.71 h-2.1 M146.4 185.28 h-2.1 M243.6 35.89 h-2.1 M243.6 63.83 h-2.1 M243.6 58.91 h-2.1 M243.6 55.42 h-2.1 M243.6 52.71 h-2.1 M243.6 50.5 h-2.1 M243.6 48.63 h-2.1 M243.6 47.01 h-2.1 M243.6 45.58 h-2.1 M243.6 91.77 h-2.1 M243.6 86.85 h-2.1 M243.6 83.36 h-2.1 M243.6 80.65 h-2.1 M243.6 78.44 h-2.1 M243.6 76.57 h-2.1 M243.6 74.95 h-2.1 M243.6 73.52 h-2.1 M243.6 119.71 h-2.1 M243.6 114.79 h-2.1 M243.6 111.3 h-2.1 M243.6 108.59 h-2.1 M243.6 106.38 h-2.1 M243.6 104.51 h-2.1 M243.6 102.89 h-2.1 M243.6 101.46 h-2.1 M243.6 147.65 h-2.1 M243.6 142.73 h-2.1 M243.6 139.24 h-2.1 M243.6 136.53 h-2.1 M243.6 134.32 h-2.1 M243.6 132.45 h-2.1 M243.6 130.83 h-2.1 M243.6 129.4 h-2.1 M243.6 175.59 h-2.1 M243.6 170.67 h-2.1 M243.6 167.18 h-2.1 M243.6 164.47 h-2.1 M243.6 162.26 h-2.1 M243.6 160.39 h-2.1 M243.6 158.77 h-2.1 M243.6 157.34 h-2.1 M243.6 203.53 h-2.1 M243.6 198.61 h-2.1 M243.6 195.12 h-2.1 M243.6 192.41 h-2.1 M243.6 190.2 h-2.1 M243.6 188.33 h-2.1 M243.6 186.71 h-2.1 M243.6 185.28 h-2.1 M340.7 35.89 h-2.1 M340.7 63.83 h-2.1 M340.7 58.91 h-2.1 M340.7 55.42 h-2.1 M340.7 52.71 h-2.1 M340.7 50.5 h-2.1 M340.7 48.63 h-2.1 M340.7 47.01 h-2.1 M340.7 45.58 h-2.1 M340.7 91.77 h-2.1 M340.7 86.85 h-2.1 M340.7 83.36 h-2.1 M340.7 80.65 h-2.1 M340.7 78.44 h-2.1 M340.7 76.57 h-2.1 M340.7 74.95 h-2.1 M340.7 73.52 h-2.1 M340.7 119.71 h-2.1 M340.7 114.79 h-2.1 M340.7 111.3 h-2.1 M340.7 108.59 h-2.1 M340.7 106.38 h-2.1 M340.7 104.51 h-2.1 M340.7 102.89 h-2.1 M340.7 101.46 h-2.1 M340.7 147.65 h-2.1 M340.7 142.73 h-2.1 M340.7 139.24 h-2.1 M340.7 136.53 h-2.1 M340.7 134.32 h-2.1 M340.7 132.45 h-2.1 M340.7 130.83 h-2.1 M340.7 129.4 h-2.1 M340.7 175.59 h-2.1 M340.7 170.67 h-2.1 M340.7 167.18 h-2.1 M340.7 164.47 h-2.1 M340.7 162.26 h-2.1 M340.7 160.39 h-2.1 M340.7 158.77 h-2.1 M340.7 157.34 h-2.1 M340.7 203.53 h-2.1 M340.7 198.61 h-2.1 M340.7 195.12 h-2.1 M340.7 192.41 h-2.1 M340.7 190.2 h-2.1 M340.7 188.33 h-2.1 M340.7 186.71 h-2.1 M340.7 185.28 h-2.1" stroke="#000" stroke-width="0.63" fill="none"/>
<text x="49.3" y="226.6" text-anchor="middle">−2</text>
<text x="81.7" y="226.6" text-anchor="middle">0</text>
<text x="114" y="226.6" text-anchor="middle">2</text>
<text x="146.4" y="226.6" text-anchor="middle">4</text>
<text x="155.2" y="226.6" text-anchor="middle">0</text>
<text x="199.4" y="226.6" text-anchor="middle">10</text>
<text x="243.6" y="226.6" text-anchor="middle">20</text>
<text x="265.9" y="226.6" text-anchor="middle">50</text>
<text x="303.3" y="226.6" text-anchor="middle">100</text>
<text x="340.7" y="226.6" text-anchor="middle">150</text>
<text x="367.7" y="226.6" text-anchor="middle">150</text>
<text x="396" y="226.6" text-anchor="middle">200</text>
<text x="424.3" y="226.6" text-anchor="middle">250</text>
<path d="M49.3 210.5 v3.7 M81.7 210.5 v3.7 M114 210.5 v3.7 M146.4 210.5 v3.7 M155.2 210.5 v3.7 M199.4 210.5 v3.7 M243.6 210.5 v3.7 M265.9 210.5 v3.7 M303.3 210.5 v3.7 M340.7 210.5 v3.7 M367.7 210.5 v3.7 M396 210.5 v3.7 M424.3 210.5 v3.7" stroke="#000" stroke-width="1.1" fill="none"/>
<text x="40.6" y="48.5" text-anchor="end">10<tspan dy="-4" font-size="7.4">0</tspan></text>
<text x="40.6" y="76.44" text-anchor="end">10<tspan dy="-4" font-size="7.4">−1</tspan></text>
<text x="40.6" y="104.38" text-anchor="end">10<tspan dy="-4" font-size="7.4">−2</tspan></text>
<text x="40.6" y="132.32" text-anchor="end">10<tspan dy="-4" font-size="7.4">−3</tspan></text>
<text x="40.6" y="160.26" text-anchor="end">10<tspan dy="-4" font-size="7.4">−4</tspan></text>
<text x="40.6" y="188.2" text-anchor="end">10<tspan dy="-4" font-size="7.4">−5</tspan></text>
<text x="96.35" y="239.9" text-anchor="middle" font-style="italic">x</text>
<text x="193.5" y="239.9" text-anchor="middle" font-style="italic">x</text>
<text x="290.65" y="239.9" text-anchor="middle" font-style="italic">x</text>
<text x="387.8" y="239.9" text-anchor="middle" font-style="italic">x</text>
<text transform="translate(10.1 123.5) rotate(-90)" text-anchor="middle" font-size="10.75">stacked position histogram</text>
<text x="98.15" y="29.1" text-anchor="middle" font-size="12.7"><tspan font-style="italic">t</tspan><tspan dx="2.2">=</tspan><tspan dx="3.6">0.10</tspan></text>
<text x="195.3" y="29.1" text-anchor="middle" font-size="12.7"><tspan font-style="italic">t</tspan><tspan dx="2.2">=</tspan><tspan dx="3.6">1.00</tspan></text>
<text x="292.45" y="29.1" text-anchor="middle" font-size="12.7"><tspan font-style="italic">t</tspan><tspan dx="2.2">=</tspan><tspan dx="3.6">10.00</tspan></text>
<text x="389.6" y="29.1" text-anchor="middle" font-size="12.7"><tspan font-style="italic">t</tspan><tspan dx="2.2">=</tspan><tspan dx="3.6">20.00</tspan></text>
<text x="237.4" y="11" text-anchor="middle" font-size="12.7">Initially mobile</text>
<rect x="446.9" y="35.8" width="120.4" height="159" rx="2.2" fill="#fff" fill-opacity="0.8" stroke="#c6c6c6" stroke-width="1"/>
<rect x="451.6" y="41.4" width="21.4" height="7" fill="#0b2846"/>
<rect x="451.6" y="57.5" width="21.4" height="7" fill="#d72965"/>
<rect x="451.6" y="73.5" width="21.4" height="7" fill="#fdc70c"/>
<rect x="451.6" y="89.6" width="21.4" height="7" fill="#ffff8c"/>
<clipPath id="lp"><rect x="451.5" y="105" width="22.3" height="7.5"/></clipPath>
<g clip-path="url(#lp)"><use href="#hl" stroke="#c4c4c4" stroke-width="1" fill="none"/></g>
<rect x="451.5" y="105" width="22.3" height="7.5" fill="none" stroke="#c2c2c2" stroke-width="1"/>
<text x="482.2" y="48.7"><tspan font-style="italic">N</tspan><tspan dy="2.3" font-size="7.4" font-style="italic">im</tspan><tspan dy="-2.3" dx="1.9">=<tspan dx="2.1">0</tspan></tspan></text>
<text x="482.2" y="64.8"><tspan font-style="italic">N</tspan><tspan dy="2.3" font-size="7.4" font-style="italic">im</tspan><tspan dy="-2.3" dx="1.9">=<tspan dx="2.1">1</tspan></tspan></text>
<text x="482.2" y="80.8"><tspan font-style="italic">N</tspan><tspan dy="2.3" font-size="7.4" font-style="italic">im</tspan><tspan dy="-2.3" dx="1.9">=<tspan dx="2.1">2</tspan></tspan></text>
<text x="482.2" y="96.9"><tspan font-style="italic">N</tspan><tspan dy="2.3" font-size="7.4" font-style="italic">im</tspan><tspan dy="-2.3" dx="1.9">&gt;<tspan dx="2.1">2</tspan></tspan></text>
<text x="481.7" y="112.6">immobile</text>
<path d="M451.6 125 H473" stroke="#000" stroke-width="1.6"/>
<text x="482.2" y="128.2"><tspan font-style="italic">n</tspan><tspan dy="2.3" font-size="7.4" font-style="italic">tot</tspan><tspan dy="-2.3" dx="-0.3">(</tspan><tspan font-style="italic">x</tspan>,<tspan font-style="italic" dx="2.4">t</tspan>)</text>
<path d="M451.6 140.8 H473" stroke="#0000ff" stroke-width="1.6" stroke-dasharray="5.4 2.3"/>
<text x="482.2" y="144.6"><tspan font-style="italic">τ</tspan><tspan dy="2.3" font-size="7.4" font-style="italic">v</tspan><tspan dy="-2.3" dx="0.6">≲</tspan><tspan font-style="italic">t</tspan><tspan dx="1.8">≪</tspan><tspan font-style="italic" dx="2.3">τ</tspan><tspan dy="2.3" font-size="7.4" font-style="italic">im</tspan></text>
<path d="M451.6 156.9 H473" stroke="#ff7f2a" stroke-width="1.6" stroke-dasharray="5.4 2.3"/>
<text x="482.2" y="160.6"><tspan font-style="italic">τ</tspan><tspan dy="2.3" font-size="7.4" font-style="italic">im</tspan><tspan dy="-2.3" dx="1.8">≪</tspan><tspan font-style="italic" dx="2.3">t</tspan><tspan dx="2.6">≪</tspan><tspan font-style="italic" dx="2.3">τ</tspan><tspan dy="2.3" font-size="7.4" font-style="italic">m</tspan></text>
<path d="M451.6 179.6 H473" stroke="#c4c6c8" stroke-width="1.6"/>
<text x="482.2" y="176.7">Tail</text>
<text x="485.6" y="188.5">approximation</text>
</svg>
</body></html>
